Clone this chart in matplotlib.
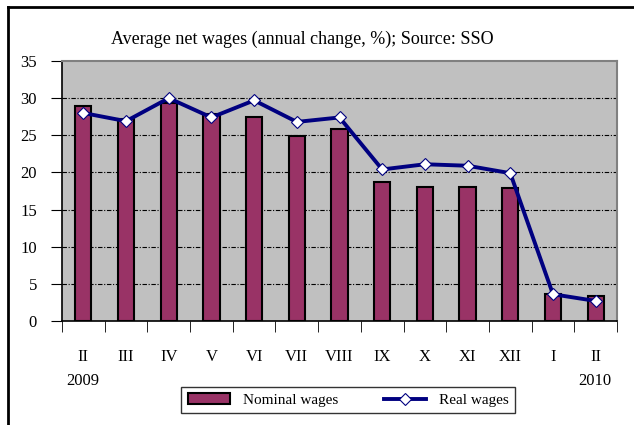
import matplotlib.pyplot as plt
import numpy as np
from matplotlib.lines import Line2D

months = ['II', 'III', 'IV', 'V', 'VI', 'VII', 'VIII', 'IX', 'X', 'XI', 'XII', 'I', 'II']
nominal = [28.9, 27.2, 29.3, 27.8, 27.4, 24.9, 25.8, 18.7, 18.1, 18.0, 17.9, 3.7, 3.4]
real = [28.0, 26.9, 30.0, 27.4, 29.7, 26.8, 27.4, 20.4, 21.1, 20.9, 19.9, 3.6, 2.7]

plt.rcParams['font.family'] = ['Liberation Serif', 'DejaVu Serif']

fig = plt.figure(figsize=(6.34, 4.25), dpi=100)
ax = fig.add_axes([62 / 634, 1 - 321 / 425, 555 / 634, 260 / 425])

x = np.arange(len(months))
ax.set_facecolor('#c0c0c0')
bars = ax.bar(x, nominal, width=0.38, color='#993366', edgecolor='black', linewidth=1.5,
              label='Nominal wages', zorder=3)
line, = ax.plot(x, real, color='#000080', linewidth=2.8, marker='D', markersize=6,
                markerfacecolor='white', markeredgecolor='#000080', markeredgewidth=0.8,
                label='Real wages', zorder=4)

ax.set_xlim(-0.5, len(months) - 0.5)
ax.set_ylim(0, 35)
ax.set_yticks(range(0, 36, 5))
for v in range(5, 35, 5):
    ax.axhline(v, color='black', linewidth=0.8, linestyle=(0, (4, 1.5, 1, 1.5)), zorder=1)

ax.set_xticks(x)
ax.set_xticklabels(months, fontsize=12)
ax.tick_params(axis='x', length=0, pad=20)
ax.set_xticks(np.arange(-0.5, len(months), 1), minor=True)
ax.tick_params(axis='x', which='minor', length=8, direction='out', color='black')
ax.tick_params(axis='y', length=8, direction='out', labelsize=12, pad=10)

for s in ['left', 'bottom']:
    ax.spines[s].set_color('black')
    ax.spines[s].set_linewidth(1.2)
for s in ['top', 'right']:
    ax.spines[s].set_color('#808080')
    ax.spines[s].set_linewidth(1.5)

fig.text(302 / 634, 1 - 39 / 425, 'Average net wages (annual change, %); Source: SSO',
         ha='center', va='center', fontsize=13)
fig.text(83 / 634, 1 - 381 / 425, '2009', ha='center', va='center', fontsize=12)
fig.text(595 / 634, 1 - 381 / 425, '2010', ha='center', va='center', fontsize=12)

leg = fig.legend([bars, line], ['Nominal wages', 'Real wages'], loc='center',
                 bbox_to_anchor=(348 / 634, 1 - 400 / 425), ncol=2,
                 frameon=True, fancybox=False, edgecolor='black', fontsize=11,
                 handlelength=2.8, columnspacing=3.0, borderpad=0.4, borderaxespad=0)
leg.get_frame().set_linewidth(1.0)

# outer frame
fig.add_artist(Line2D([8 / 634, 8 / 634], [0, 1 - 7 / 425], color='black', linewidth=2))
fig.add_artist(Line2D([8 / 634, 1], [1 - 7 / 425, 1 - 7 / 425], color='black', linewidth=2))

fig.savefig('out.png', dpi=100)
